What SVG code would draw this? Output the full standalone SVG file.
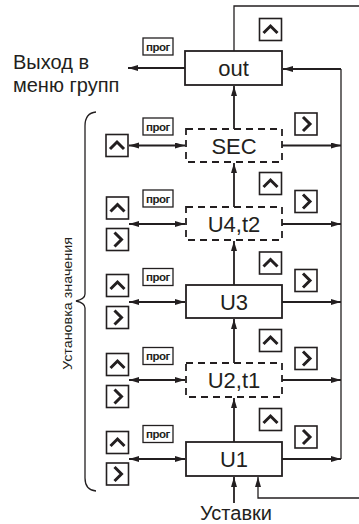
<svg xmlns="http://www.w3.org/2000/svg" xmlns:xlink="http://www.w3.org/1999/xlink" width="359" height="524" viewBox="0 0 359 524">
<style>
.box{fill:#fff;stroke:#231f20;stroke-width:1.8}
.dbox{fill:#fff;stroke:#231f20;stroke-width:1.8;stroke-dasharray:7 5}
.lbl{font-family:"Liberation Sans",Arial,sans-serif;font-size:22px;fill:#231f20;text-anchor:middle}
.txt{font-family:"Liberation Sans",Arial,sans-serif;font-size:20px;fill:#231f20}
.prog{font-family:"Liberation Sans",Arial,sans-serif;font-size:11.5px;font-weight:bold;fill:#231f20;text-anchor:middle;letter-spacing:-0.5px}
.ln{fill:none;stroke:#231f20;stroke-width:1.8}
.thin{fill:none;stroke:#231f20;stroke-width:1.3}
.btn{fill:#fff;stroke:#231f20;stroke-width:1.6}
.chev{fill:none;stroke:#231f20;stroke-width:3;stroke-linejoin:miter}
.pbox{fill:#fff;stroke:#231f20;stroke-width:1.3}
</style>
<defs>
<marker id="ah" markerUnits="userSpaceOnUse" markerWidth="11" markerHeight="7" refX="10" refY="3" orient="auto-start-reverse"><path d="M0,0 L10,3 L0,6 z" fill="#231f20"/></marker>
<symbol id="up" overflow="visible"><rect class="btn" x="0" y="0" width="22" height="22"/><polyline class="chev" points="4,14.5 11,7.5 18,14.5"/></symbol>
<symbol id="rt" overflow="visible"><rect class="btn" x="0" y="0" width="22" height="22"/><polyline class="chev" points="8,4 15,11 8,18"/></symbol>
<symbol id="pr" overflow="visible"><rect class="pbox" x="0" y="0" width="30" height="17"/><text class="prog" x="15" y="12.5">прог</text></symbol>
</defs>

<g id="connectors">
<polyline class="thin" points="234,51 234,6 359,6"/>
<polyline class="thin" points="359,498 258,498 258,477" marker-end="url(#ah)"/>
<line class="ln" x1="234" y1="503" x2="234" y2="477" marker-end="url(#ah)"/>
<line class="thin" x1="341" y1="69" x2="341" y2="459"/>
<line class="ln" x1="341" y1="69" x2="283" y2="69" marker-end="url(#ah)"/>
<line class="ln" x1="282" y1="145.5" x2="341" y2="145.5" marker-end="url(#ah)"/>
<line class="ln" x1="282" y1="224" x2="341" y2="224" marker-end="url(#ah)"/>
<line class="ln" x1="282" y1="302" x2="341" y2="302" marker-end="url(#ah)"/>
<line class="ln" x1="282" y1="380" x2="341" y2="380" marker-end="url(#ah)"/>
<line class="ln" x1="282" y1="459" x2="341" y2="459" marker-end="url(#ah)"/>
<line class="ln" x1="234" y1="129" x2="234" y2="86" marker-end="url(#ah)"/>
<line class="ln" x1="234" y1="207" x2="234" y2="163" marker-end="url(#ah)"/>
<line class="ln" x1="234" y1="285" x2="234" y2="241" marker-end="url(#ah)"/>
<line class="ln" x1="234" y1="363" x2="234" y2="319" marker-end="url(#ah)"/>
<line class="ln" x1="234" y1="442" x2="234" y2="398" marker-end="url(#ah)"/>
<line class="ln" x1="185" y1="68" x2="128" y2="68" marker-end="url(#ah)"/>
<line class="ln" x1="129" y1="145.5" x2="185" y2="145.5" marker-start="url(#ah)" marker-end="url(#ah)"/>
<line class="ln" x1="129" y1="224" x2="185" y2="224" marker-start="url(#ah)" marker-end="url(#ah)"/>
<line class="ln" x1="129" y1="302" x2="185" y2="302" marker-start="url(#ah)" marker-end="url(#ah)"/>
<line class="ln" x1="129" y1="380" x2="185" y2="380" marker-start="url(#ah)" marker-end="url(#ah)"/>
<line class="ln" x1="129" y1="459" x2="185" y2="459" marker-start="url(#ah)" marker-end="url(#ah)"/>
</g>

<g id="brace">
<path class="thin" d="M96,112 Q85,113 85,126 L85,294 Q85,299 76,301 Q85,303 85,308 L85,478 Q85,490 96,491"/>
<text class="txt" style="font-size:13px" transform="translate(72,303.5) rotate(-90)" text-anchor="middle" textLength="133" lengthAdjust="spacingAndGlyphs">Установка значения</text>
</g>

<g id="exit-label">
<text class="txt" x="13" y="69">Выход в</text>
<text class="txt" x="13" y="92">меню групп</text>
</g>

<g id="node-out">
<rect class="box" x="185" y="51" width="97" height="34"/>
<text class="lbl" x="233.5" y="76">out</text>
<use href="#pr" x="143" y="38"/>
<use href="#up" x="259.5" y="18.5"/>
</g>

<g id="node-sec">
<rect class="dbox" x="186" y="129" width="96" height="33"/>
<text class="lbl" x="234" y="153.5">SEC</text>
<use href="#pr" x="143" y="118"/>
<use href="#up" x="106" y="134.5"/>
<use href="#rt" x="295" y="113"/>
</g>

<g id="node-u4t2">
<rect class="dbox" x="186" y="207" width="96" height="33"/>
<text class="lbl" x="234" y="232">U4,t2</text>
<use href="#pr" x="143" y="190"/>
<use href="#up" x="106.5" y="197"/>
<use href="#rt" x="106.5" y="228.5"/>
<use href="#up" x="259.5" y="172.5"/>
<use href="#rt" x="295" y="190.5"/>
</g>

<g id="node-u3">
<rect class="box" x="186" y="285" width="96" height="33"/>
<text class="lbl" x="234" y="310">U3</text>
<use href="#pr" x="143" y="268.5"/>
<use href="#up" x="106.5" y="274.5"/>
<use href="#rt" x="106.5" y="306.5"/>
<use href="#up" x="259.5" y="252"/>
<use href="#rt" x="295" y="269.5"/>
</g>

<g id="node-u2t1">
<rect class="dbox" x="186" y="363" width="96" height="34"/>
<text class="lbl" x="234" y="388">U2,t1</text>
<use href="#pr" x="143" y="347.5"/>
<use href="#up" x="106.5" y="353.5"/>
<use href="#rt" x="106.5" y="385.5"/>
<use href="#up" x="259.5" y="329.5"/>
<use href="#rt" x="295" y="347.5"/>
</g>

<g id="node-u1">
<rect class="box" x="186" y="442" width="96" height="34"/>
<text class="lbl" x="234" y="467">U1</text>
<use href="#pr" x="143" y="425.5"/>
<use href="#up" x="106.5" y="431.5"/>
<use href="#rt" x="106.5" y="463"/>
<use href="#up" x="259.5" y="408.5"/>
<use href="#rt" x="295" y="426"/>
</g>

<g id="setpoints-label">
<text class="txt" x="236" y="520" text-anchor="middle">Уставки</text>
</g>
</svg>
